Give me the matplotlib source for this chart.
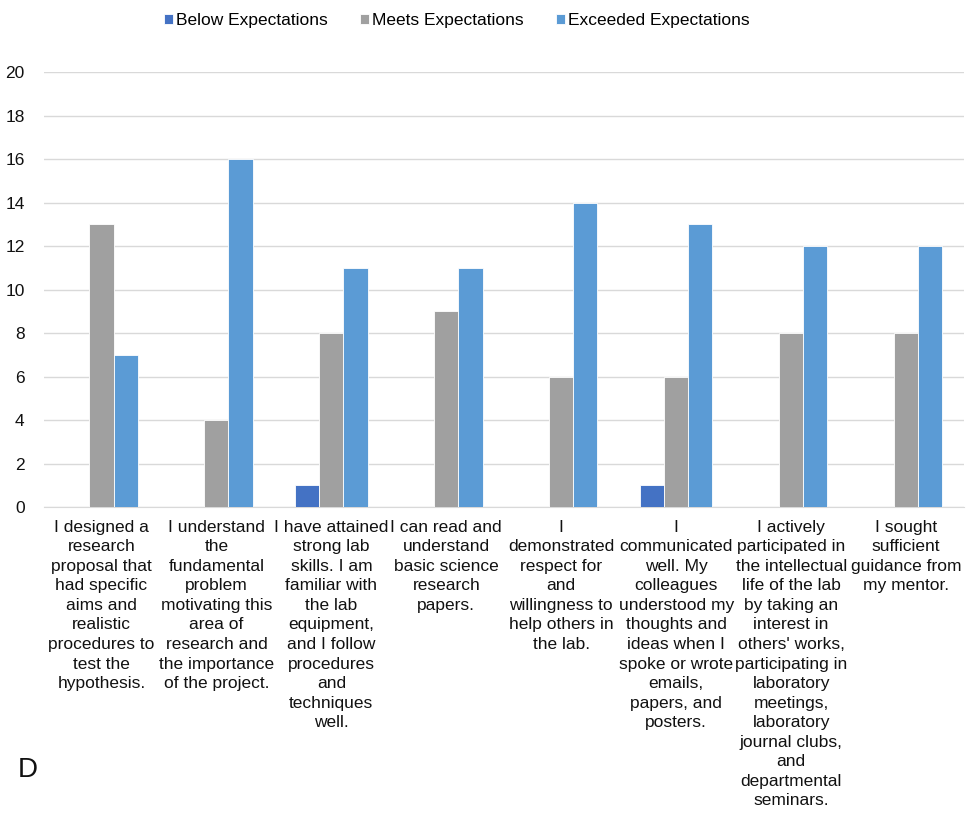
import matplotlib
matplotlib.use('Agg')
import matplotlib.pyplot as plt
import numpy as np

plt.rcParams['font.family'] = ['Liberation Sans', 'DejaVu Sans']

categories = [
    "I designed a\nresearch\nproposal that\nhad specific\naims and\nrealistic\nprocedures to\ntest the\nhypothesis.",
    "I understand\nthe\nfundamental\nproblem\nmotivating this\narea of\nresearch and\nthe importance\nof the project.",
    "I have attained\nstrong lab\nskills. I am\nfamiliar with\nthe lab\nequipment,\nand I follow\nprocedures\nand\ntechniques\nwell.",
    "I can read and\nunderstand\nbasic science\nresearch\npapers.",
    "I\ndemonstrated\nrespect for\nand\nwillingness to\nhelp others in\nthe lab.",
    "I\ncommunicated\nwell. My\ncolleagues\nunderstood my\nthoughts and\nideas when I\nspoke or wrote\nemails,\npapers, and\nposters.",
    "I actively\nparticipated in\nthe intellectual\nlife of the lab\nby taking an\ninterest in\nothers' works,\nparticipating in\nlaboratory\nmeetings,\nlaboratory\njournal clubs,\nand\ndepartmental\nseminars.",
    "I sought\nsufficient\nguidance from\nmy mentor.",
]
below = [0, 0, 1, 0, 0, 1, 0, 0]
meets = [13, 4, 8, 9, 6, 6, 8, 8]
exceeded = [7, 16, 11, 11, 14, 13, 12, 12]
series_names = ["Below Expectations", "Meets Expectations", "Exceeded Expectations"]
colors = ['#4472C4', '#A0A0A0', '#5B9BD5']

fig = plt.figure(figsize=(9.66, 8.14), dpi=100)
ax = fig.add_axes([0.0455, 0.377, 0.952, 0.5345])

x = np.arange(len(categories))
w = 0.21
for i, (vals, name) in enumerate(zip([below, meets, exceeded], series_names)):
    ax.bar(x + (i - 1) * w, vals, w, color=colors[i], label=name,
           edgecolor='white', linewidth=0.6, zorder=3)

ax.set_xlim(-0.5, len(categories) - 0.5)
ax.set_ylim(0, 20)
ax.set_yticks(range(0, 21, 2))
ax.grid(axis='y', color='#D9D9D9', linewidth=1, zorder=0)
for s in ['top', 'right', 'left']:
    ax.spines[s].set_visible(False)
ax.spines['bottom'].set_color('#D9D9D9')
ax.tick_params(length=0, labelsize=12.5, colors='#111111')
ax.tick_params(axis='x', pad=9)
ax.tick_params(axis='y', pad=14)
ax.set_xticks(x)
ax.set_xticklabels(categories, linespacing=1.38, va='top')

ax.legend(loc='upper center', bbox_to_anchor=(0.449, 1.172), ncol=3, frameon=False,
          fontsize=12.5, handlelength=0.5, handleheight=0.5, handletextpad=0.15,
          columnspacing=1.9)

fig.text(0.018, 0.038, "D", fontsize=20, color='#111111', va='bottom')

fig.savefig('out.png', dpi=100)
